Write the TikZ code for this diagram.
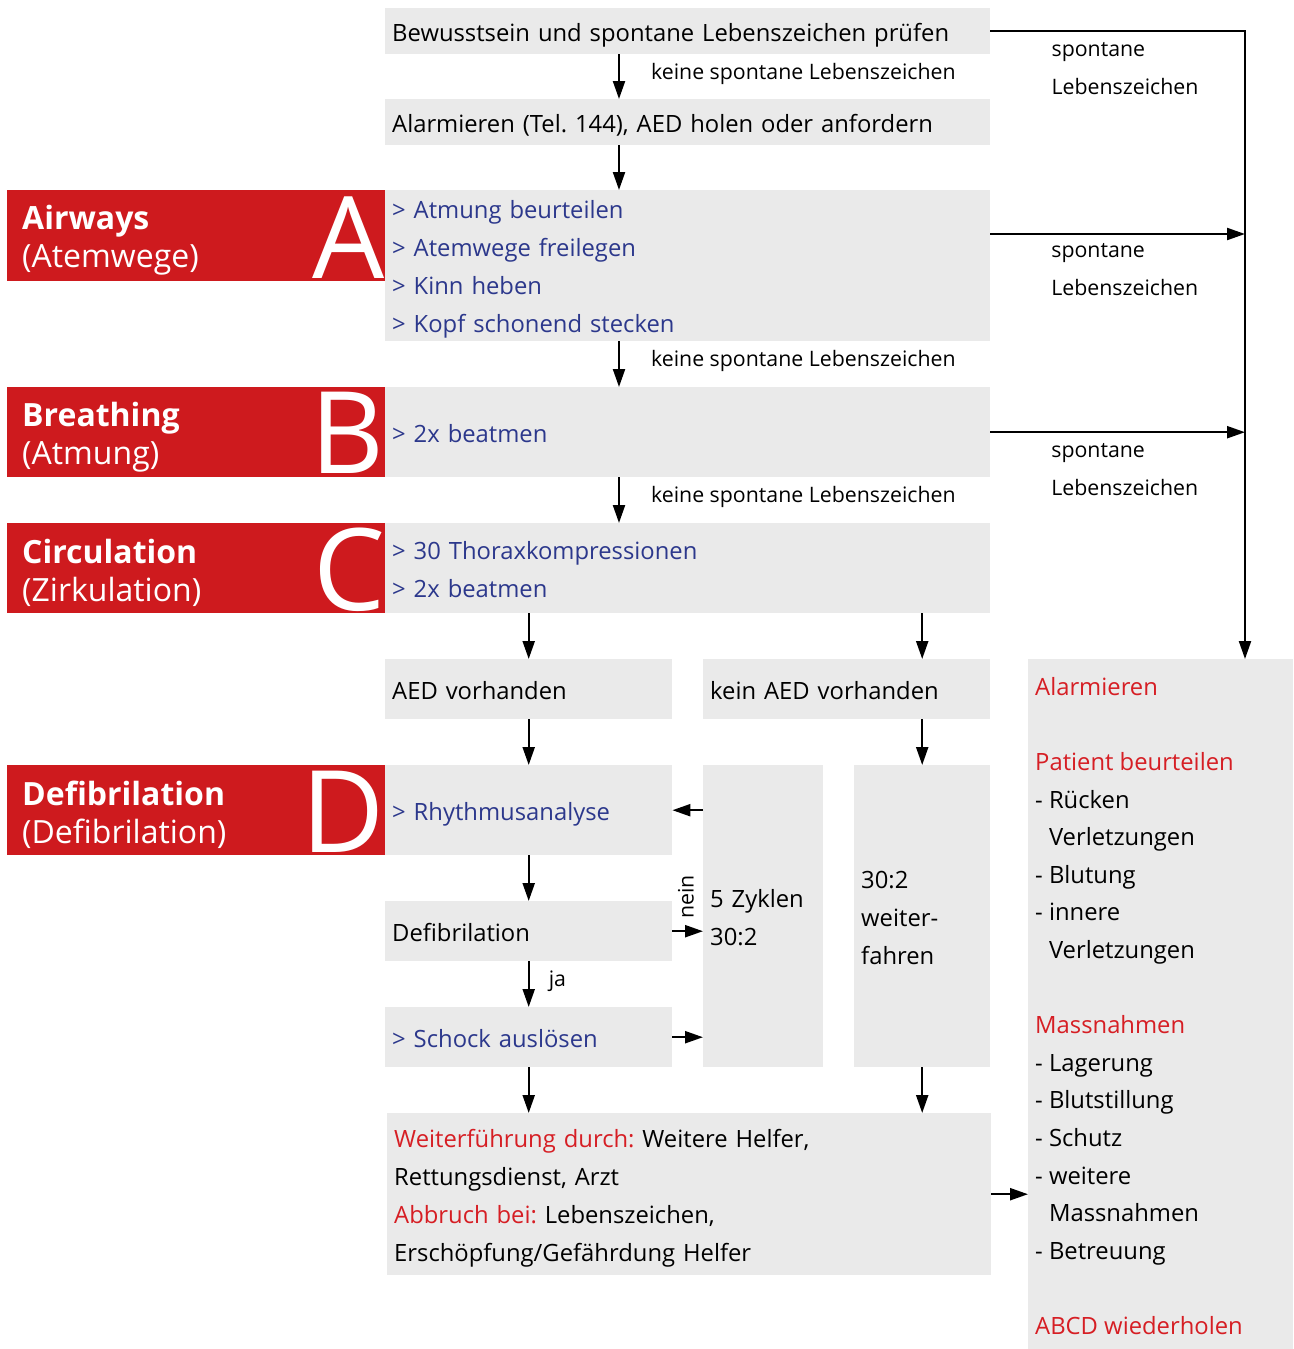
\documentclass[tikz,border=0pt]{standalone}
\usepackage{fontspec}
\setmainfont{Open Sans}
\usetikzlibrary{arrows.meta,positioning,calc}
\definecolor{abcred}{RGB}{206,26,30}
\definecolor{txtred}{RGB}{214,30,36}
\definecolor{boxgray}{RGB}{234,234,234}
\definecolor{stepblue}{RGB}{44,56,140}

\begin{document}
\begin{tikzpicture}[x=1pt,y=-1pt,
        gbox/.style={fill=boxgray,anchor=north west,inner xsep=7pt,inner ysep=0pt,
                     align=left,font=\fontsize{23.8}{38}\selectfont\frenchspacing,
                     execute at begin node=\rule{0pt}{26pt},
                     execute at end node=\rule[-6pt]{0pt}{6pt}},
        redbox/.style={fill=abcred,anchor=north west,minimum width=378pt,inner xsep=15pt,
                       inner ysep=0pt,align=left,text width=348pt,text=white,
                       font=\fontsize{32}{38}\selectfont,
                       execute at begin node=\rule{0pt}{34pt}},
        bigletter/.style={anchor=base east,inner sep=0pt,text=white,
                          font=\fontsize{114}{114}\selectfont},
        lbl/.style={font=\fontsize{21.3}{38}\selectfont,align=left,inner sep=0pt},
        arrow/.style={-{Triangle[length=18pt,width=12pt]},line width=2.2pt}
    ]
        \useasboundingbox (0,0) rectangle (1293,1349);

        % main column
        \node[gbox,minimum width=605pt,minimum height=46pt,text width=591pt] (check) at (385,8)
            {Bewusstsein und spontane Lebenszeichen prüfen};
        \node[gbox,minimum width=605pt,minimum height=46pt,text width=591pt] (alarm) at (385,99)
            {Alarmieren (Tel.~144), AED holen oder anfordern};
        \node[gbox,minimum width=605pt,minimum height=151pt,text width=591pt,text=stepblue] (air) at (385,190)
            {> Atmung beurteilen\\> Atemwege freilegen\\> Kinn heben\\> Kopf schonend stecken};
        \node[gbox,minimum width=605pt,minimum height=90pt,text width=591pt,text=stepblue] (breath) at (385,387)
            {> 2x beatmen};
        \node[gbox,minimum width=605pt,minimum height=90pt,text width=591pt,text=stepblue] (circ) at (385,523)
            {> 30 Thoraxkompressionen\\> 2x beatmen};
        \node[gbox,minimum width=287pt,minimum height=60pt,text width=273pt] (aed) at (385,659) {AED vorhanden};
        \node[gbox,minimum width=287pt,minimum height=60pt,text width=273pt] (noaed) at (703,659) {kein AED vorhanden};
        \node[gbox,minimum width=287pt,minimum height=90pt,text width=273pt,text=stepblue] (rhythm) at (385,765)
            {> Rhythmusanalyse};
        \node[gbox,minimum width=287pt,minimum height=60pt,text width=273pt] (defi) at (385,901) {Defibrilation};
        \node[gbox,minimum width=287pt,minimum height=60pt,text width=273pt,text=stepblue] (shock) at (385,1007)
            {> Schock auslösen};
        \node[gbox,minimum width=120pt,minimum height=302pt,text width=106pt] (cycles) at (703,765) {5 Zyklen\\30:2};
        \node[gbox,minimum width=136pt,minimum height=302pt,text width=122pt] (goon) at (854,765) {30:2\\weiter-\\fahren};
        \node[gbox,minimum width=604pt,minimum height=162pt,text width=590pt] (cont) at (387,1113)
            {\textcolor{txtred}{Weiterführung durch:} Weitere Helfer,\\Rettungsdienst, Arzt\\
             \textcolor{txtred}{Abbruch bei:} Lebenszeichen,\\Erschöpfung/Gefährdung Helfer};

        % ABCD labels
        \node[redbox,minimum height=91pt] (ra) at (7,190) {\textbf{Airways}\\(Atemwege)};
        \node[bigletter] (la) at (385,278) {A};
        \node[redbox,minimum height=90pt] (rb) at (7,387) {\textbf{Breathing}\\(Atmung)};
        \node[bigletter] (lb) at (385,473) {B};
        \node[redbox,minimum height=90pt] (rc) at (7,523) {\textbf{Circulation}\\(Zirkulation)};
        \node[bigletter] (lc) at (386,610) {C};
        \node[redbox,minimum height=90pt] (rd) at (7,765) {\textbf{Defibrilation}\\(Defibrilation)};
        \node[bigletter] (ld) at (385,852) {D};

        % right panel
        \node[fill=boxgray,anchor=north west,minimum width=265pt,minimum height=690pt,inner sep=0pt] (side) at (1028,659) {};
        \node[anchor=north west,inner sep=0pt,align=left,font=\fontsize{23.8}{37.6}\selectfont] (sidetext) at (1035,677)
            {\textcolor{txtred}{Alarmieren}\\[37.6pt]
             \textcolor{txtred}{Patient beurteilen}\\
             - Rücken\\\phantom{- }Verletzungen\\- Blutung\\- innere\\\phantom{- }Verletzungen\\[37.6pt]
             \textcolor{txtred}{Massnahmen}\\
             - Lagerung\\- Blutstillung\\- Schutz\\- weitere\\\phantom{- }Massnahmen\\- Betreuung\\[37.6pt]
             \textcolor{txtred}{ABCD wiederholen}};

        \coordinate (mid) at (619,0);
        \coordinate (rail) at (1245,659);
        \coordinate (airout) at ($(air.north east)+(0,44)$);

        % arrows
        \draw[arrow] (check.south -| mid) -- node[lbl,anchor=west,xshift=31pt,yshift=3pt]{keine spontane Lebenszeichen} (alarm.north -| mid);
        \draw[arrow] (alarm.south -| mid) -- (air.north -| mid);
        \draw[arrow] (air.south -| mid) -- node[lbl,anchor=west,xshift=31pt,yshift=3pt]{keine spontane Lebenszeichen} (breath.north -| mid);
        \draw[arrow] (breath.south -| mid) -- node[lbl,anchor=west,xshift=31pt,yshift=3pt]{keine spontane Lebenszeichen} (circ.north -| mid);
        \draw[arrow] (circ.south -| aed.north) -- (aed.north);
        \draw[arrow] (circ.south -| goon.north) -- (noaed.north -| goon.north);
        \draw[arrow] (aed.south) -- (rhythm.north);
        \draw[arrow] (noaed.south -| goon.north) -- (goon.north);
        \draw[arrow] (rhythm.south) -- (defi.north);
        \draw[arrow] (defi.south) -- node[lbl,anchor=west,xshift=19pt,yshift=3pt]{ja} (shock.north);
        \draw[arrow] (shock.south) -- (cont.north -| shock.south);
        \draw[arrow] (goon.south) -- (cont.north -| goon.south);
        \draw[arrow] (cycles.west |- rhythm.east) -- (rhythm.east);
        \draw[arrow] (defi.east) -- (defi.east -| cycles.west);
        \node[lbl,rotate=90] (nein) at (686,897) {nein};
        \draw[arrow] (shock.east) -- (shock.east -| cycles.west);
        \draw[arrow] (cont.east) -- (cont.east -| side.west);

        \draw[arrow] (check.east) -| node[lbl,pos=0.118,anchor=north west,yshift=-10pt]{spontane\\Lebenszeichen} (rail);
        \draw[arrow] (airout) -- node[lbl,pos=0.235,anchor=north west,yshift=-8pt]{spontane\\Lebenszeichen} (airout -| rail);
        \draw[arrow] (breath.east) -- node[lbl,pos=0.235,anchor=north west,yshift=-10pt]{spontane\\Lebenszeichen} (breath.east -| rail);
    \end{tikzpicture}
\end{document}
